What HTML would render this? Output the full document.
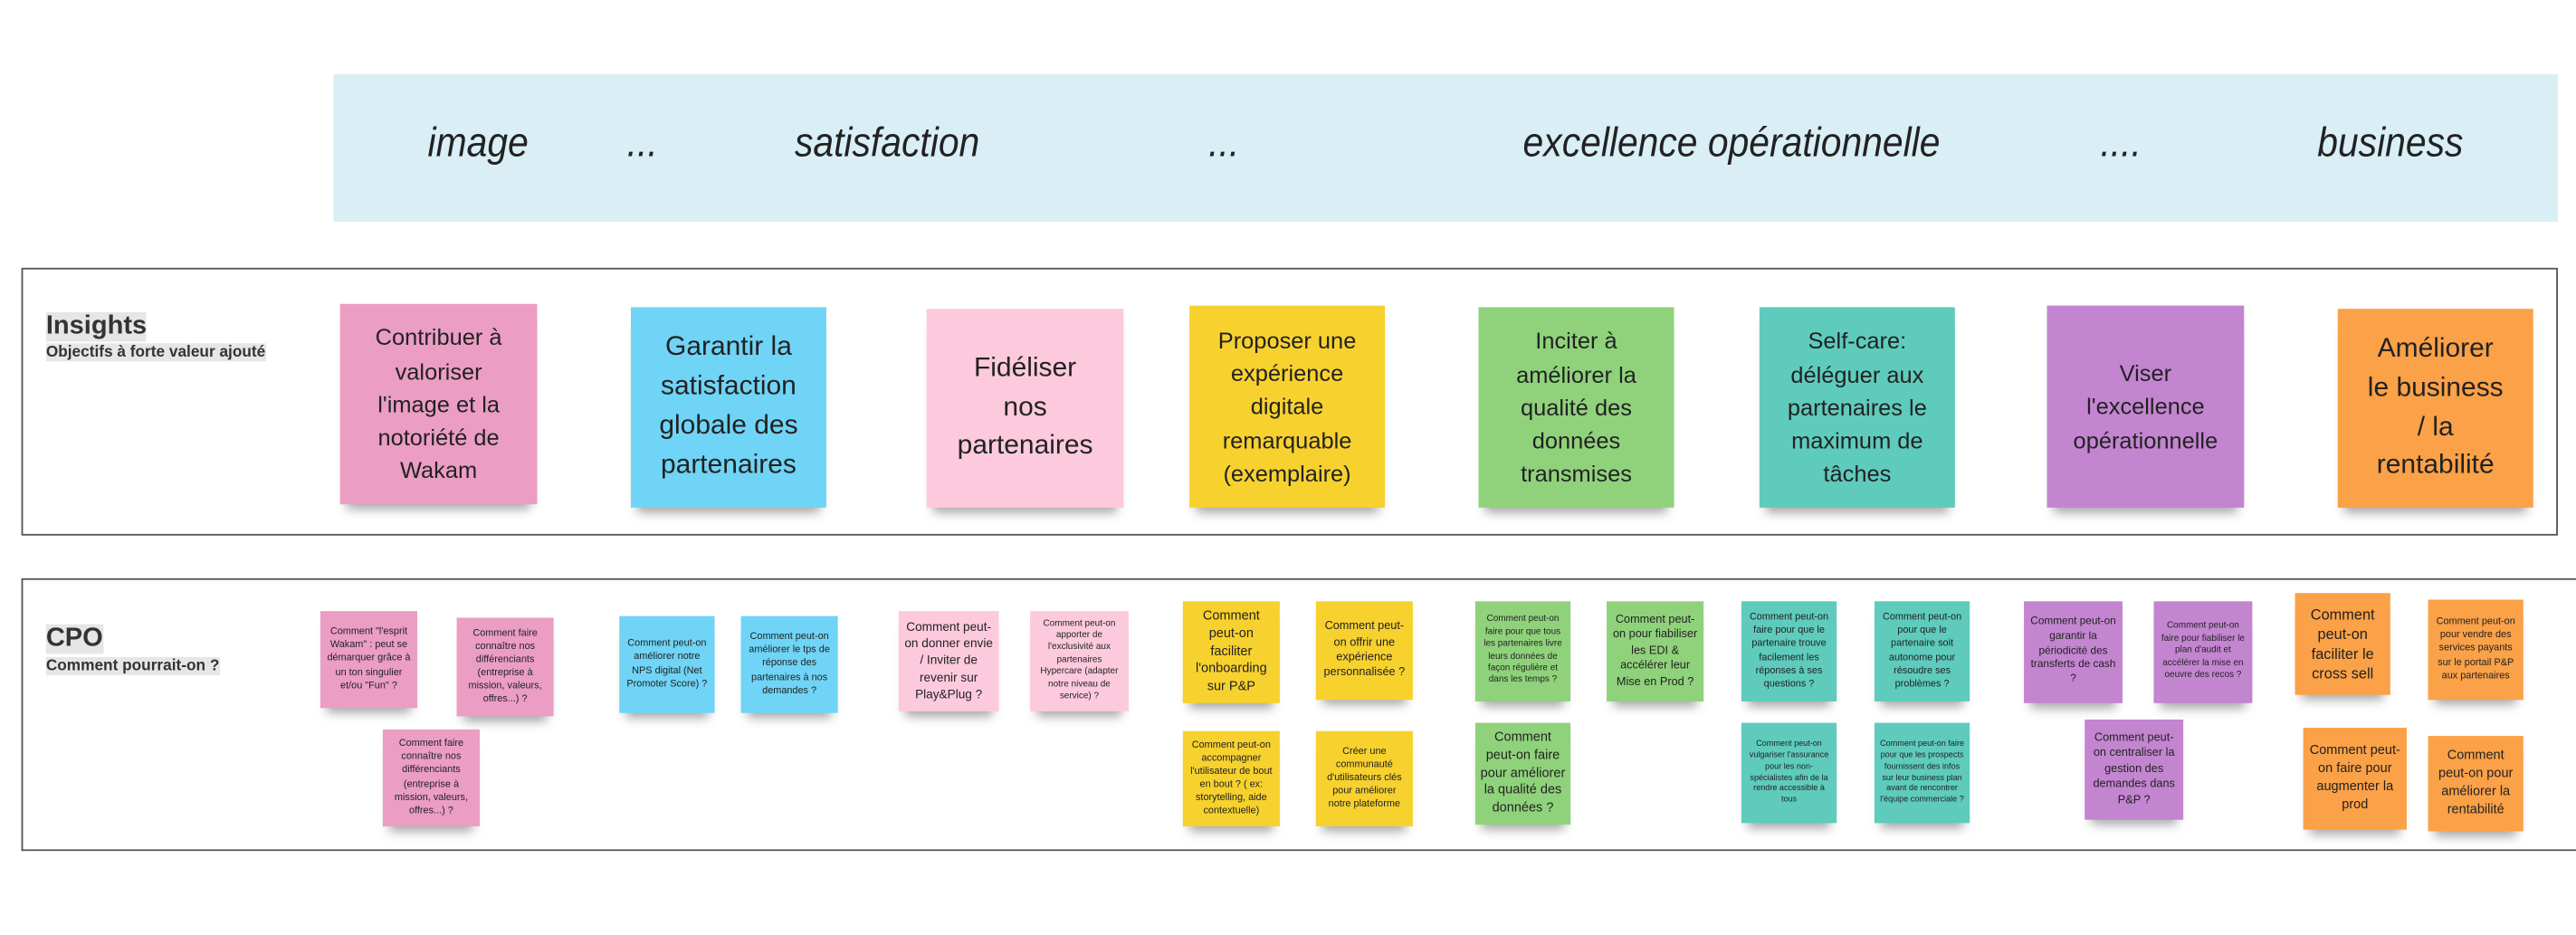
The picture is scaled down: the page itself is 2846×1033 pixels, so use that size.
<!DOCTYPE html>
<html><head><meta charset="utf-8"><style>
html,body{margin:0;padding:0;background:#fff;width:2846px;height:1032px;overflow:hidden}
#c{position:absolute;left:0;top:0;width:1568px;height:569px;transform:scale(1.815);transform-origin:0 0;font-family:"Liberation Sans",sans-serif;color:#222}
.band{position:absolute;left:203px;top:45px;width:1354px;height:90px;background:#d9eff5}
.h{position:absolute;top:73px;font-style:italic;font-size:25px;transform:translateX(-50%) scaleX(0.9);white-space:nowrap;color:#222}
.box{position:absolute;border:1px solid #555;background:#fff}
.lbl{position:absolute;left:28px;background:#e6e6e6;font-weight:bold;color:#333}
.s{position:absolute;display:flex;align-items:center;justify-content:center;text-align:center;box-shadow:0 7px 6px -4px rgba(0,0,0,.35);box-sizing:border-box;padding:3px;line-height:1.35;color:#222}
.L{font-size:14px;line-height:1.45;padding:8px}
.p{background:#eb9dc4}.b{background:#6fd4f6}.lp{background:#fdcadd}.y{background:#f7d12e}.g{background:#8fd27b}.t{background:#5ecbbd}.pu{background:#c385d0}.o{background:#fba147}
</style></head><body><div id="c">
<div class="band"></div>
<div class="h" style="left:291px">image</div>
<div class="h" style="left:391px">...</div>
<div class="h" style="left:540px">satisfaction</div>
<div class="h" style="left:745px">...</div>
<div class="h" style="left:1054px">excellence opérationnelle</div>
<div class="h" style="left:1291px">....</div>
<div class="h" style="left:1455px">business</div>

<div class="box" style="left:13px;top:163px;width:1542px;height:161px"></div>
<div class="lbl" style="top:190px;font-size:16px">Insights</div>
<div class="lbl" style="top:209px;font-size:9.5px">Objectifs à forte valeur ajouté</div>

<div class="s L p" style="left:207px;top:185px;width:120px;height:122px;padding:8px 16px">Contribuer à valoriser l'image et la notoriété de Wakam</div>
<div class="s L b" style="left:384px;top:187px;width:119px;height:122px;font-size:16.5px">Garantir la satisfaction globale des partenaires</div>
<div class="s L lp" style="left:564px;top:188px;width:120px;height:121px;font-size:16.5px;padding:8px 22px">Fidéliser nos partenaires</div>
<div class="s L y" style="left:724px;top:186px;width:119px;height:123px">Proposer une expérience digitale remarquable (exemplaire)</div>
<div class="s L g" style="left:900px;top:187px;width:119px;height:122px">Inciter à améliorer la qualité des données transmises</div>
<div class="s L t" style="left:1071px;top:187px;width:119px;height:122px">Self-care: déléguer aux partenaires le maximum de tâches</div>
<div class="s L pu" style="left:1246px;top:186px;width:120px;height:123px;padding:8px 16px">Viser l'excellence opérationnelle</div>
<div class="s L o" style="left:1423px;top:188px;width:119px;height:121px;font-size:16.5px;padding:8px 18px">Améliorer le business / la rentabilité</div>

<div class="box" style="left:13px;top:352px;width:1555px;height:164px;border-right:none"></div>
<div class="lbl" style="top:380px;font-size:16px">CPO</div>
<div class="lbl" style="top:400px;font-size:9.5px">Comment pourrait-on ?</div>

<div class="s p" style="left:195px;top:372px;width:59px;height:59px;font-size:6px">Comment "l'esprit Wakam" : peut se démarquer grâce à un ton singulier et/ou "Fun" ?</div>
<div class="s p" style="left:278px;top:376px;width:59px;height:60px;font-size:6px">Comment faire connaître nos différenciants (entreprise à mission, valeurs, offres...) ?</div>
<div class="s p" style="left:233px;top:444px;width:59px;height:59px;font-size:6px">Comment faire connaître nos différenciants (entreprise à mission, valeurs, offres...) ?</div>
<div class="s b" style="left:377px;top:375px;width:58px;height:59px;font-size:6px">Comment peut-on améliorer notre NPS digital (Net Promoter Score) ?</div>
<div class="s b" style="left:451px;top:375px;width:59px;height:59px;font-size:6px">Comment peut-on améliorer le tps de réponse des partenaires à nos demandes ?</div>
<div class="s lp" style="left:547px;top:372px;width:61px;height:61px;font-size:7.5px">Comment peut-on donner envie / Inviter de revenir sur Play&amp;Plug ?</div>
<div class="s lp" style="left:627px;top:372px;width:60px;height:61px;font-size:5.5px">Comment peut-on apporter de l'exclusivité aux partenaires Hypercare (adapter notre niveau de service) ?</div>
<div class="s y" style="left:720px;top:366px;width:59px;height:62px;font-size:8px">Comment peut-on faciliter l'onboarding sur P&amp;P</div>
<div class="s y" style="left:801px;top:366px;width:59px;height:60px;font-size:7px">Comment peut-on offrir une expérience personnalisée ?</div>
<div class="s y" style="left:720px;top:445px;width:59px;height:58px;font-size:6px">Comment peut-on accompagner l'utilisateur de bout en bout ? ( ex: storytelling, aide contextuelle)</div>
<div class="s y" style="left:801px;top:445px;width:59px;height:58px;font-size:6px">Créer une communauté d'utilisateurs clés pour améliorer notre plateforme</div>
<div class="s g" style="left:898px;top:366px;width:58px;height:61px;font-size:5.5px">Comment peut-on faire pour que tous les partenaires livre leurs données de façon régulière et dans les temps ?</div>
<div class="s g" style="left:978px;top:366px;width:59px;height:61px;font-size:7px">Comment peut-on pour fiabiliser les EDI &amp; accélérer leur Mise en Prod ?</div>
<div class="s g" style="left:898px;top:440px;width:58px;height:62px;font-size:8px">Comment peut-on faire pour améliorer la qualité des données ?</div>
<div class="s t" style="left:1060px;top:366px;width:58px;height:61px;font-size:6px">Comment peut-on faire pour que le partenaire trouve facilement les réponses à ses questions ?</div>
<div class="s t" style="left:1141px;top:366px;width:58px;height:61px;font-size:6px">Comment peut-on pour que le partenaire soit autonome pour résoudre ses problèmes ?</div>
<div class="s t" style="left:1060px;top:440px;width:58px;height:61px;font-size:5px">Comment peut-on vulgariser l'assurance pour les non-spécialistes afin de la rendre accessible à tous</div>
<div class="s t" style="left:1141px;top:440px;width:58px;height:61px;font-size:5px">Comment peut-on faire pour que les prospects fournissent des infos sur leur business plan avant de rencontrer l'équipe commerciale ?</div>
<div class="s pu" style="left:1232px;top:366px;width:60px;height:62px;font-size:6.5px">Comment peut-on garantir la périodicité des transferts de cash ?</div>
<div class="s pu" style="left:1311px;top:366px;width:60px;height:62px;font-size:5.5px">Comment peut-on faire pour fiabiliser le plan d'audit et accélérer la mise en oeuvre des recos ?</div>
<div class="s pu" style="left:1269px;top:438px;width:60px;height:61px;font-size:7px">Comment peut-on centraliser la gestion des demandes dans P&amp;P ?</div>
<div class="s o" style="left:1397px;top:361px;width:58px;height:62px;font-size:9px">Comment peut-on faciliter le cross sell</div>
<div class="s o" style="left:1478px;top:365px;width:58px;height:61px;font-size:6px">Comment peut-on pour vendre des services payants sur le portail P&amp;P aux partenaires</div>
<div class="s o" style="left:1402px;top:443px;width:63px;height:62px;font-size:8px">Comment peut-on faire pour augmenter la prod</div>
<div class="s o" style="left:1478px;top:448px;width:58px;height:58px;font-size:8px">Comment peut-on pour améliorer la rentabilité</div>
</div></body></html>
